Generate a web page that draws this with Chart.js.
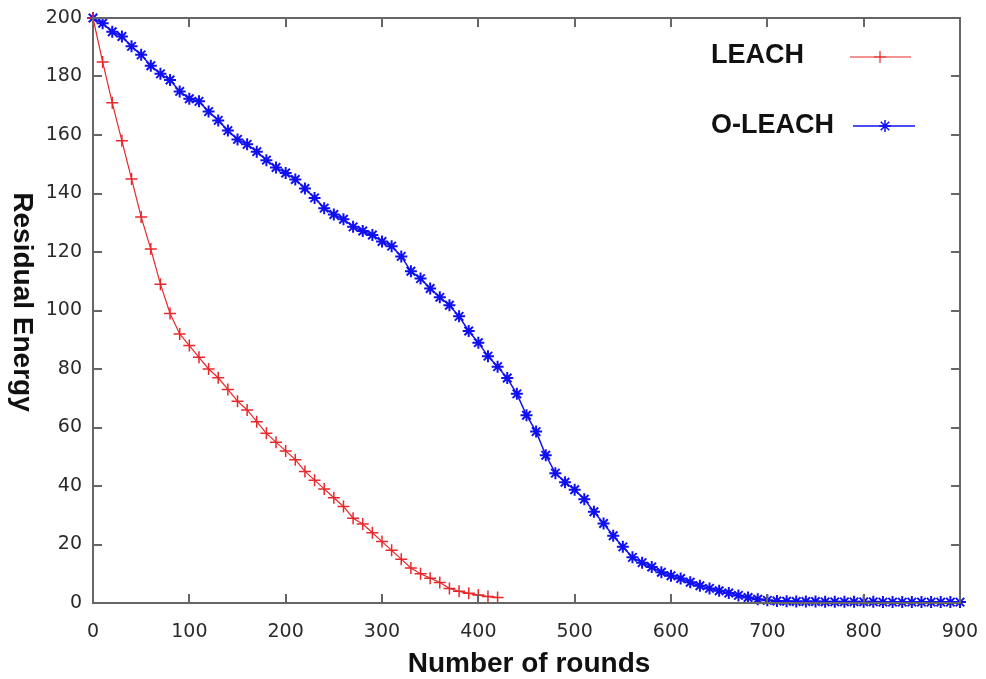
<!DOCTYPE html>
<html>
<head>
<meta charset="utf-8">
<script src="https://cdn.jsdelivr.net/npm/chart.js@4.4.1/dist/chart.umd.min.js"></script>
<style>
html,body{margin:0;padding:0;background:#fff;}
#wrap{width:986px;height:679px;position:relative;}
</style>
</head>
<body>
<div id="wrap"><canvas id="c" width="986" height="679"></canvas></div>
<script>
// ---- data ----
const leachRounds = [0,10,20,30,40,50,60,70,80,90,100,110,120,130,140,150,160,170,180,190,200,210,220,230,240,250,260,270,280,290,300,310,320,330,340,350,360,370,380,390,400,410,420];
const leachEnergy = [200,185,171,158,145,132,121,109,99,92,88,84,80,77,73,69,66,62,58,55,52,49,45,42,39,36,33,29,27,24,21,18,15,12,10,8.5,7,5,4,3.3,2.7,2.2,1.9];

const oleachRounds = [0,10,20,30,40,50,60,70,80,90,100,110,120,130,140,150,160,170,180,190,200,210,220,230,240,250,260,270,280,290,300,310,320,330,340,350,360,370,380,390,400,410,420,430,440,450,460,470,480,490,500,510,520,530,540,550,560,570,580,590,600,610,620,630,640,650,660,670,680,690,700,710,720,730,740,750,760,770,780,790,800,810,820,830,840,850,860,870,880,890,900];
const oleachEnergy = [200,198.2,195.3,193.7,190.3,187.4,183.7,180.9,178.8,174.9,172.4,171.5,168,165,161.5,158.5,156.8,154.3,151.4,148.9,147,144.8,141.7,138.5,135,132.8,131.2,128.6,127.2,125.8,123.6,122,118.5,113.4,110.9,107.5,104.5,101.8,98,93,89,84.4,80.8,76.9,71.5,64.2,58.6,50.5,44.4,41.3,38.7,35.5,31.2,27.2,23,19.2,15.6,13.8,12.3,10.5,9.3,8.4,7.1,5.9,5,4.2,3.4,2.6,1.9,1.3,0.9,0.7,0.6,0.5,0.5,0.5,0.4,0.4,0.4,0.4,0.4,0.4,0.3,0.3,0.3,0.3,0.3,0.3,0.3,0.3,0.3];

const xTicks = [0,100,200,300,400,500,600,700,800,900];
const yTicks = [0,20,40,60,80,100,120,140,160,180,200];
const seriesNames = ['LEACH','O-LEACH'];
const xTitle = 'Number of rounds';
const yTitle = 'Residual Energy';

const RED = '#e8282b';
const BLUE = '#1010f0';
const AXIS = '#666666';

function pts(xs, ys){ return xs.map((x,i)=>({x:x, y:ys[i]})); }

const framePlugin = {
  id:'frame',
  afterDatasetsDraw(chart){
    const {ctx, chartArea:a, scales:{x, y}} = chart;
    ctx.save();
    ctx.strokeStyle = AXIS;
    ctx.lineWidth = 2;
    ctx.strokeRect(a.left, a.top, a.right-a.left, a.bottom-a.top);
    const tl = 9;
    xTicks.forEach(v=>{
      if (v===0 || v===900) return;
      const px = Math.round(x.getPixelForValue(v));
      ctx.beginPath();
      ctx.moveTo(px, a.bottom); ctx.lineTo(px, a.bottom - tl);
      ctx.moveTo(px, a.top); ctx.lineTo(px, a.top + tl);
      ctx.stroke();
    });
    yTicks.forEach(v=>{
      if (v===0 || v===200) return;
      const py = Math.round(y.getPixelForValue(v));
      ctx.beginPath();
      ctx.moveTo(a.left, py); ctx.lineTo(a.left + tl, py);
      ctx.moveTo(a.right, py); ctx.lineTo(a.right - tl, py);
      ctx.stroke();
    });
    ctx.restore();
  },
  afterDraw(chart){
    const {ctx, chartArea:a} = chart;
    ctx.save();
    ctx.fillStyle = '#111';
    ctx.font = 'bold 28px "Liberation Sans", Arial, sans-serif';
    ctx.textAlign = 'center';
    ctx.textBaseline = 'middle';
    ctx.fillText(xTitle, 529, 664);
    ctx.save();
    ctx.translate(22, 302);
    ctx.rotate(Math.PI/2);
    ctx.font = 'bold 28px "Liberation Sans", Arial, sans-serif';
    ctx.fillText(yTitle, 0, 0);
    ctx.restore();
    // legend
    ctx.font = 'bold 27px "Liberation Sans", Arial, sans-serif';
    ctx.textAlign = 'left';
    ctx.fillText(seriesNames[0], 711, 56);
    ctx.fillText(seriesNames[1], 711, 126);
    ctx.lineWidth = 1.2;
    ctx.strokeStyle = RED;
    ctx.beginPath(); ctx.moveTo(850, 57); ctx.lineTo(911, 57); ctx.stroke();
    ctx.fillStyle = RED;
    Chart.helpers.drawPoint(ctx, {pointStyle:'cross', radius:6, rotation:0, borderWidth:1.5}, 880, 57);
    ctx.strokeStyle = BLUE;
    ctx.lineWidth = 1.5;
    ctx.beginPath(); ctx.moveTo(853, 126); ctx.lineTo(915, 126); ctx.stroke();
    ctx.fillStyle = BLUE;
    Chart.helpers.drawPoint(ctx, {pointStyle:'star', radius:6, rotation:0, borderWidth:2}, 885, 126);
    ctx.restore();
  }
};

new Chart(document.getElementById('c'), {
  type: 'scatter',
  data: {
    datasets: [
      {
        label: seriesNames[0],
        data: pts(leachRounds, leachEnergy),
        showLine: true,
        borderColor: RED,
        backgroundColor: RED,
        borderWidth: 1.2,
        pointStyle: 'cross',
        pointRadius: 6,
        pointBorderWidth: 1.5,
        pointBorderColor: RED,
        tension: 0,
        clip: false
      },
      {
        label: seriesNames[1],
        data: pts(oleachRounds, oleachEnergy),
        showLine: true,
        borderColor: BLUE,
        backgroundColor: BLUE,
        borderWidth: 1.5,
        pointStyle: 'star',
        pointRadius: 6,
        pointBorderWidth: 2,
        pointBorderColor: BLUE,
        tension: 0,
        clip: false
      }
    ]
  },
  options: {
    responsive: false,
    animation: false,
    devicePixelRatio: 1,
    layout: { padding: { left: 0, top: 18, right: 26, bottom: 0 } },
    plugins: { legend: { display: false }, tooltip: { enabled: false } },
    scales: {
      x: {
        type: 'linear', min: 0, max: 900,
        afterBuildTicks(s){ s.ticks = xTicks.map(v=>({value:v})); },
        afterFit(s){ s.height = 76; s.paddingLeft = 0; s.paddingRight = 0; },
        grid: { display: false, drawTicks: false },
        border: { display: false },
        ticks: { padding: 18, color: '#2a2a2a', font: { family: '"DejaVu Sans", sans-serif', size: 19 }, maxRotation: 0, autoSkip: false }
      },
      y: {
        type: 'linear', min: 0, max: 200,
        afterBuildTicks(s){ s.ticks = yTicks.map(v=>({value:v})); },
        afterFit(s){ s.width = 93; s.paddingTop = 0; s.paddingBottom = 0; },
        grid: { display: false, drawTicks: false },
        border: { display: false },
        ticks: { padding: 11, color: '#2a2a2a', font: { family: '"DejaVu Sans", sans-serif', size: 19 }, autoSkip: false }
      }
    }
  },
  plugins: [framePlugin]
});
</script>
</body>
</html>
